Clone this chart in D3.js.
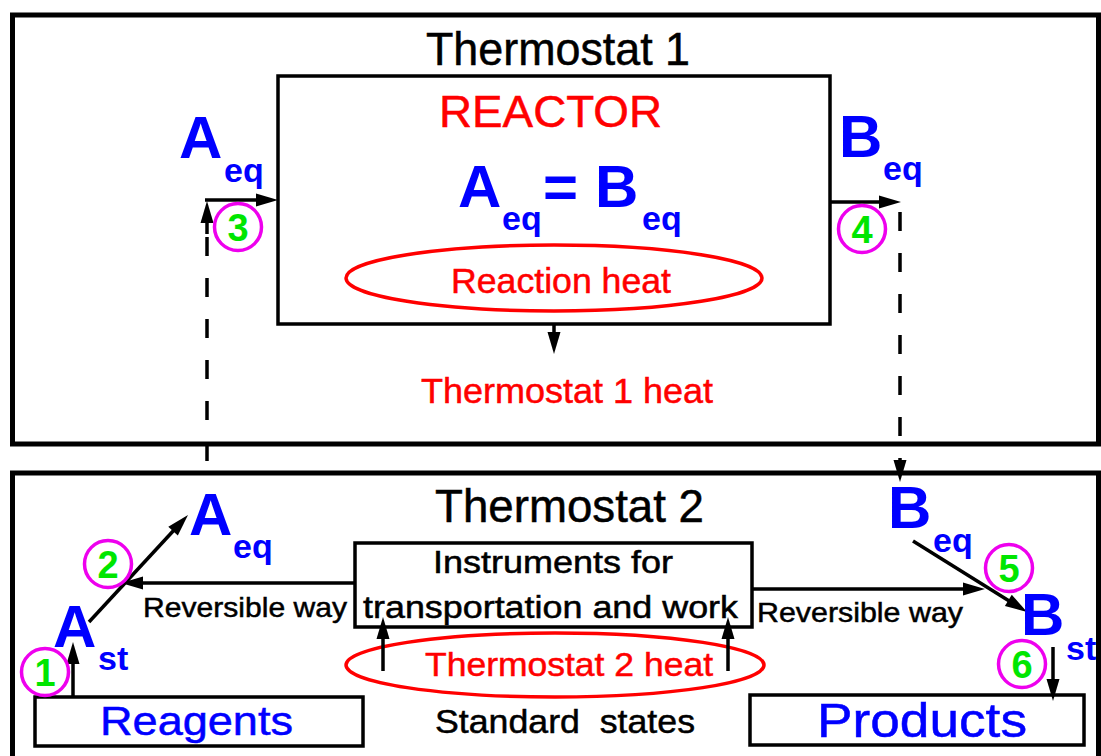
<!DOCTYPE html>
<html>
<head>
<meta charset="utf-8">
<script src="https://cdn.jsdelivr.net/npm/d3@7"></script>
<style>
  html, body { margin: 0; padding: 0; background: #fff; }
  svg { display: block; font-family: "Liberation Sans", Arial, sans-serif; }
  text { white-space: pre; }
</style>
</head>
<body>
<div id="chart"></div>
<script>
// --- Diagram content ---
const BOX_NAMES = ["Thermostat 1", "Reactor", "Thermostat 2", "Instruments", "Reagents", "Products"];
const LABELS = [
  "Thermostat 1", "REACTOR", "Reaction heat", "Thermostat 1 heat",
  "Thermostat 2", "Instruments for", "transportation and work",
  "Reversible way", "Reversible way", "Thermostat 2 heat",
  "Standard  states", "Reagents", "Products"
];
const SPECIES = ["A", "A", "=", "B", "B", "A", "A", "B", "B"];
const SUBSCRIPTS = ["eq", "eq", "", "eq", "eq", "eq", "st", "eq", "st"];
const STEPS = ["1", "2", "3", "4", "5", "6"];

// --- Layout (pixel geometry of the sketch) ---
const width = 1101;
const height = 756;

const boxGeom = [
  { x: 12.5, y: 15, w: 1086, h: 429, sw: 5 },
  { x: 278, y: 76, w: 552, h: 248, sw: 3.5 },
  { x: 12.5, y: 473, w: 1086, h: 310, sw: 5 },
  { x: 355, y: 543, w: 397, h: 84, sw: 3.5 },
  { x: 35, y: 697, w: 328, h: 49, sw: 3.5 },
  { x: 750, y: 695, w: 334, h: 50, sw: 3.5 }
];

const ellipseGeom = [
  { cx: 554, cy: 278, rx: 208, ry: 33 },
  { cx: 555, cy: 665, rx: 209, ry: 32 }
];

// x, baseline, font size, target width, colour
const labelGeom = [
  { x: 426, y: 65, size: 46, len: 264, c: "#000" },
  { x: 439, y: 127, size: 45, len: 223, c: "#f00" },
  { x: 451, y: 293, size: 35, len: 220, c: "#f00" },
  { x: 421, y: 403, size: 35, len: 292, c: "#f00" },
  { x: 435, y: 522, size: 46, len: 269, c: "#000" },
  { x: 433, y: 573, size: 31, len: 240, c: "#000" },
  { x: 363, y: 618, size: 31, len: 375, c: "#000" },
  { x: 143, y: 617, size: 28, len: 204, c: "#000" },
  { x: 757, y: 622, size: 28, len: 206, c: "#000" },
  { x: 425, y: 676, size: 34, len: 288, c: "#f00" },
  { x: 435, y: 733, size: 34, len: 260, c: "#000" },
  { x: 100, y: 735, size: 41, len: 193, c: "#00f" },
  { x: 817, y: 737, size: 49, len: 210, c: "#00f" }
];

// letter x / baseline, subscript x / baseline
const speciesGeom = [
  { x: 179, y: 158, sx: 224, sy: 182 },
  { x: 458, y: 207, sx: 502, sy: 230 },
  { x: 543, y: 207, sx: 0, sy: 0 },
  { x: 595, y: 207, sx: 642, sy: 230 },
  { x: 839, y: 157, sx: 883, sy: 180 },
  { x: 189, y: 535, sx: 233, sy: 558 },
  { x: 53, y: 647, sx: 98, sy: 670 },
  { x: 888, y: 528, sx: 933, sy: 552 },
  { x: 1021, y: 635, sx: 1066, sy: 660 }
];

const stepGeom = [
  [45, 672], [108, 564], [238, 227], [862, 229], [1009, 568], [1022, 664]
];

// [x1, y1, x2, y2, head?, dashed?]
const arrows = [
  [73, 697, 73, 642, true, false],
  [89, 622, 188, 515, true, false],
  [207, 234, 207, 201, true, false],
  [205, 200, 278, 200, true, false],
  [830, 202, 901, 202, true, false],
  [207, 237, 207, 483, false, true],
  [900, 212, 900, 482, true, true],
  [554, 324, 554, 354, true, false],
  [355, 583, 121, 583, true, false],
  [752, 589, 985, 589, true, false],
  [383, 671, 383, 617, true, false],
  [728, 671, 728, 617, true, false],
  [913, 541, 1027, 612, true, false],
  [1053, 647, 1053, 701, true, false]
];

// --- SVG setup ---
const svg = d3
  .select("#chart")
  .append("svg")
  .attr("width", width)
  .attr("height", height)
  .attr("viewBox", `0 0 ${width} ${height}`);

// Boxes
svg
  .selectAll("rect.box")
  .data(BOX_NAMES.map((name, i) => ({ name, ...boxGeom[i] })))
  .join("rect")
  .attr("class", "box")
  .attr("x", (d) => d.x)
  .attr("y", (d) => d.y)
  .attr("width", (d) => d.w)
  .attr("height", (d) => d.h)
  .attr("fill", "none")
  .attr("stroke", "#000")
  .attr("stroke-width", (d) => d.sw);

// Heat ellipses
svg
  .selectAll("ellipse")
  .data(ellipseGeom)
  .join("ellipse")
  .attr("cx", (d) => d.cx)
  .attr("cy", (d) => d.cy)
  .attr("rx", (d) => d.rx)
  .attr("ry", (d) => d.ry)
  .attr("fill", "none")
  .attr("stroke", "#f00")
  .attr("stroke-width", 3.5);

// Arrows: shaft + filled head drawn at the tip
const HEAD_LEN = 22;
const HEAD_HALF = 6.5;
const arrowG = svg.append("g").attr("class", "arrows");

arrows.forEach(([x1, y1, x2, y2, head, dashed]) => {
  const len = Math.hypot(x2 - x1, y2 - y1);
  const ux = (x2 - x1) / len;
  const uy = (y2 - y1) / len;
  const cut = head ? 12 : 0;
  arrowG
    .append("line")
    .attr("x1", x1)
    .attr("y1", y1)
    .attr("x2", x2 - ux * cut)
    .attr("y2", y2 - uy * cut)
    .attr("stroke", "#000")
    .attr("stroke-width", 3.5)
    .attr("stroke-dasharray", dashed ? "19,22" : null);
  if (head) {
    const bx = x2 - ux * HEAD_LEN;
    const by = y2 - uy * HEAD_LEN;
    const pts = [
      [x2, y2],
      [bx - uy * HEAD_HALF, by + ux * HEAD_HALF],
      [bx + uy * HEAD_HALF, by - ux * HEAD_HALF]
    ];
    arrowG
      .append("path")
      .attr("d", d3.line()(pts) + "Z")
      .attr("fill", "#000");
  }
});

// Plain labels (thin outline to match the heavier strokes of the original)
svg
  .selectAll("text.label")
  .data(LABELS.map((t, i) => ({ t, ...labelGeom[i] })))
  .join("text")
  .attr("class", "label")
  .attr("x", (d) => d.x)
  .attr("y", (d) => d.y)
  .attr("font-size", (d) => d.size)
  .attr("fill", (d) => d.c)
  .attr("stroke", (d) => d.c)
  .attr("stroke-width", 0.5)
  .attr("textLength", (d) => d.len)
  .attr("lengthAdjust", "spacingAndGlyphs")
  .text((d) => d.t);

// Species letters with subscripts
const species = SPECIES.map((s, i) => ({ s, sub: SUBSCRIPTS[i], ...speciesGeom[i] }));

svg
  .selectAll("text.species")
  .data(species)
  .join("text")
  .attr("class", "species")
  .attr("x", (d) => d.x)
  .attr("y", (d) => d.y)
  .attr("font-size", 60)
  .attr("font-weight", "bold")
  .attr("fill", "#00f")
  .text((d) => d.s);

svg
  .selectAll("text.sub")
  .data(species.filter((d) => d.sub))
  .join("text")
  .attr("class", "sub")
  .attr("x", (d) => d.sx)
  .attr("y", (d) => d.sy)
  .attr("font-size", 34)
  .attr("font-weight", "bold")
  .attr("fill", "#00f")
  .text((d) => d.sub);

// Numbered steps
const stepG = svg
  .selectAll("g.step")
  .data(STEPS.map((n, i) => ({ n, cx: stepGeom[i][0], cy: stepGeom[i][1] })))
  .join("g")
  .attr("class", "step")
  .attr("transform", (d) => `translate(${d.cx},${d.cy})`);

stepG
  .append("circle")
  .attr("r", 23.5)
  .attr("fill", "none")
  .attr("stroke", "#ee00ee")
  .attr("stroke-width", 3.5);

stepG
  .append("text")
  .attr("text-anchor", "middle")
  .attr("y", 13.5)
  .attr("font-size", 38)
  .attr("font-weight", "bold")
  .attr("fill", "#00e600")
  .text((d) => d.n);
</script>
</body>
</html>
